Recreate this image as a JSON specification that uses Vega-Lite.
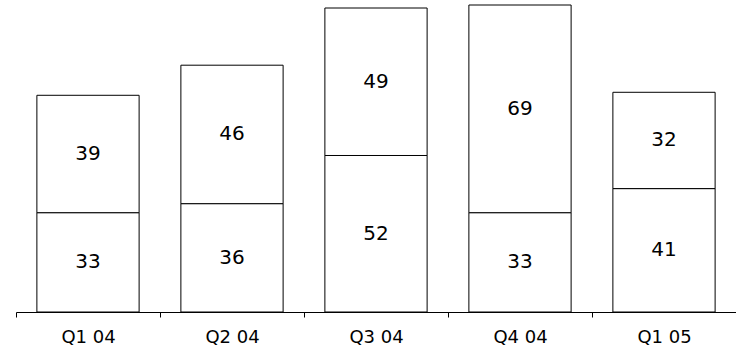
{
  "$schema": "https://vega.github.io/schema/vega-lite/v6.json",
  "width": 720,
  "height": 307,
  "autosize": {"type": "none"},
  "padding": {"left": 16, "top": 5, "right": 0, "bottom": 39},
  "background": "white",
  "config": {"view": {"stroke": null}, "font": "DejaVu Sans"},
  "data": {
    "values": [
      {"quarter": "Q1 04", "part": "a", "value": 33},
      {"quarter": "Q1 04", "part": "b", "value": 39},
      {"quarter": "Q2 04", "part": "a", "value": 36},
      {"quarter": "Q2 04", "part": "b", "value": 46},
      {"quarter": "Q3 04", "part": "a", "value": 52},
      {"quarter": "Q3 04", "part": "b", "value": 49},
      {"quarter": "Q4 04", "part": "a", "value": 33},
      {"quarter": "Q4 04", "part": "b", "value": 69},
      {"quarter": "Q1 05", "part": "a", "value": 41},
      {"quarter": "Q1 05", "part": "b", "value": 32}
    ]
  },
  "transform": [
    {"stack": "value", "groupby": ["quarter"], "sort": [{"field": "part", "order": "ascending"}], "as": ["v0", "v1"]},
    {"calculate": "(datum.v0 + datum.v1) / 2", "as": "vmid"}
  ],
  "encoding": {
    "x": {
      "field": "quarter",
      "type": "nominal",
      "sort": null,
      "scale": {"paddingInner": 0, "paddingOuter": 0},
      "axis": {
        "title": null,
        "labelAngle": 0,
        "tickBand": "extent",
        "domainColor": "black",
        "tickColor": "black",
        "tickSize": 5,
        "tickWidth": 1,
        "labelPadding": 11,
        "labelFontSize": 18,
        "labelColor": "black",
        "labelFont": "DejaVu Sans"
      }
    }
  },
  "layer": [
    {
      "mark": {"type": "bar", "fill": "white", "stroke": "black", "strokeWidth": 1, "width": {"band": 0.71}},
      "encoding": {
        "y": {"field": "v0", "type": "quantitative", "scale": {"domain": [0, 102], "nice": false}, "axis": null},
        "y2": {"field": "v1"}
      }
    },
    {
      "mark": {"type": "text", "fontSize": 20, "color": "black", "baseline": "middle", "font": "DejaVu Sans"},
      "encoding": {
        "y": {"field": "vmid", "type": "quantitative", "scale": {"domain": [0, 102], "nice": false}},
        "text": {"field": "value", "type": "quantitative"}
      }
    }
  ]
}
